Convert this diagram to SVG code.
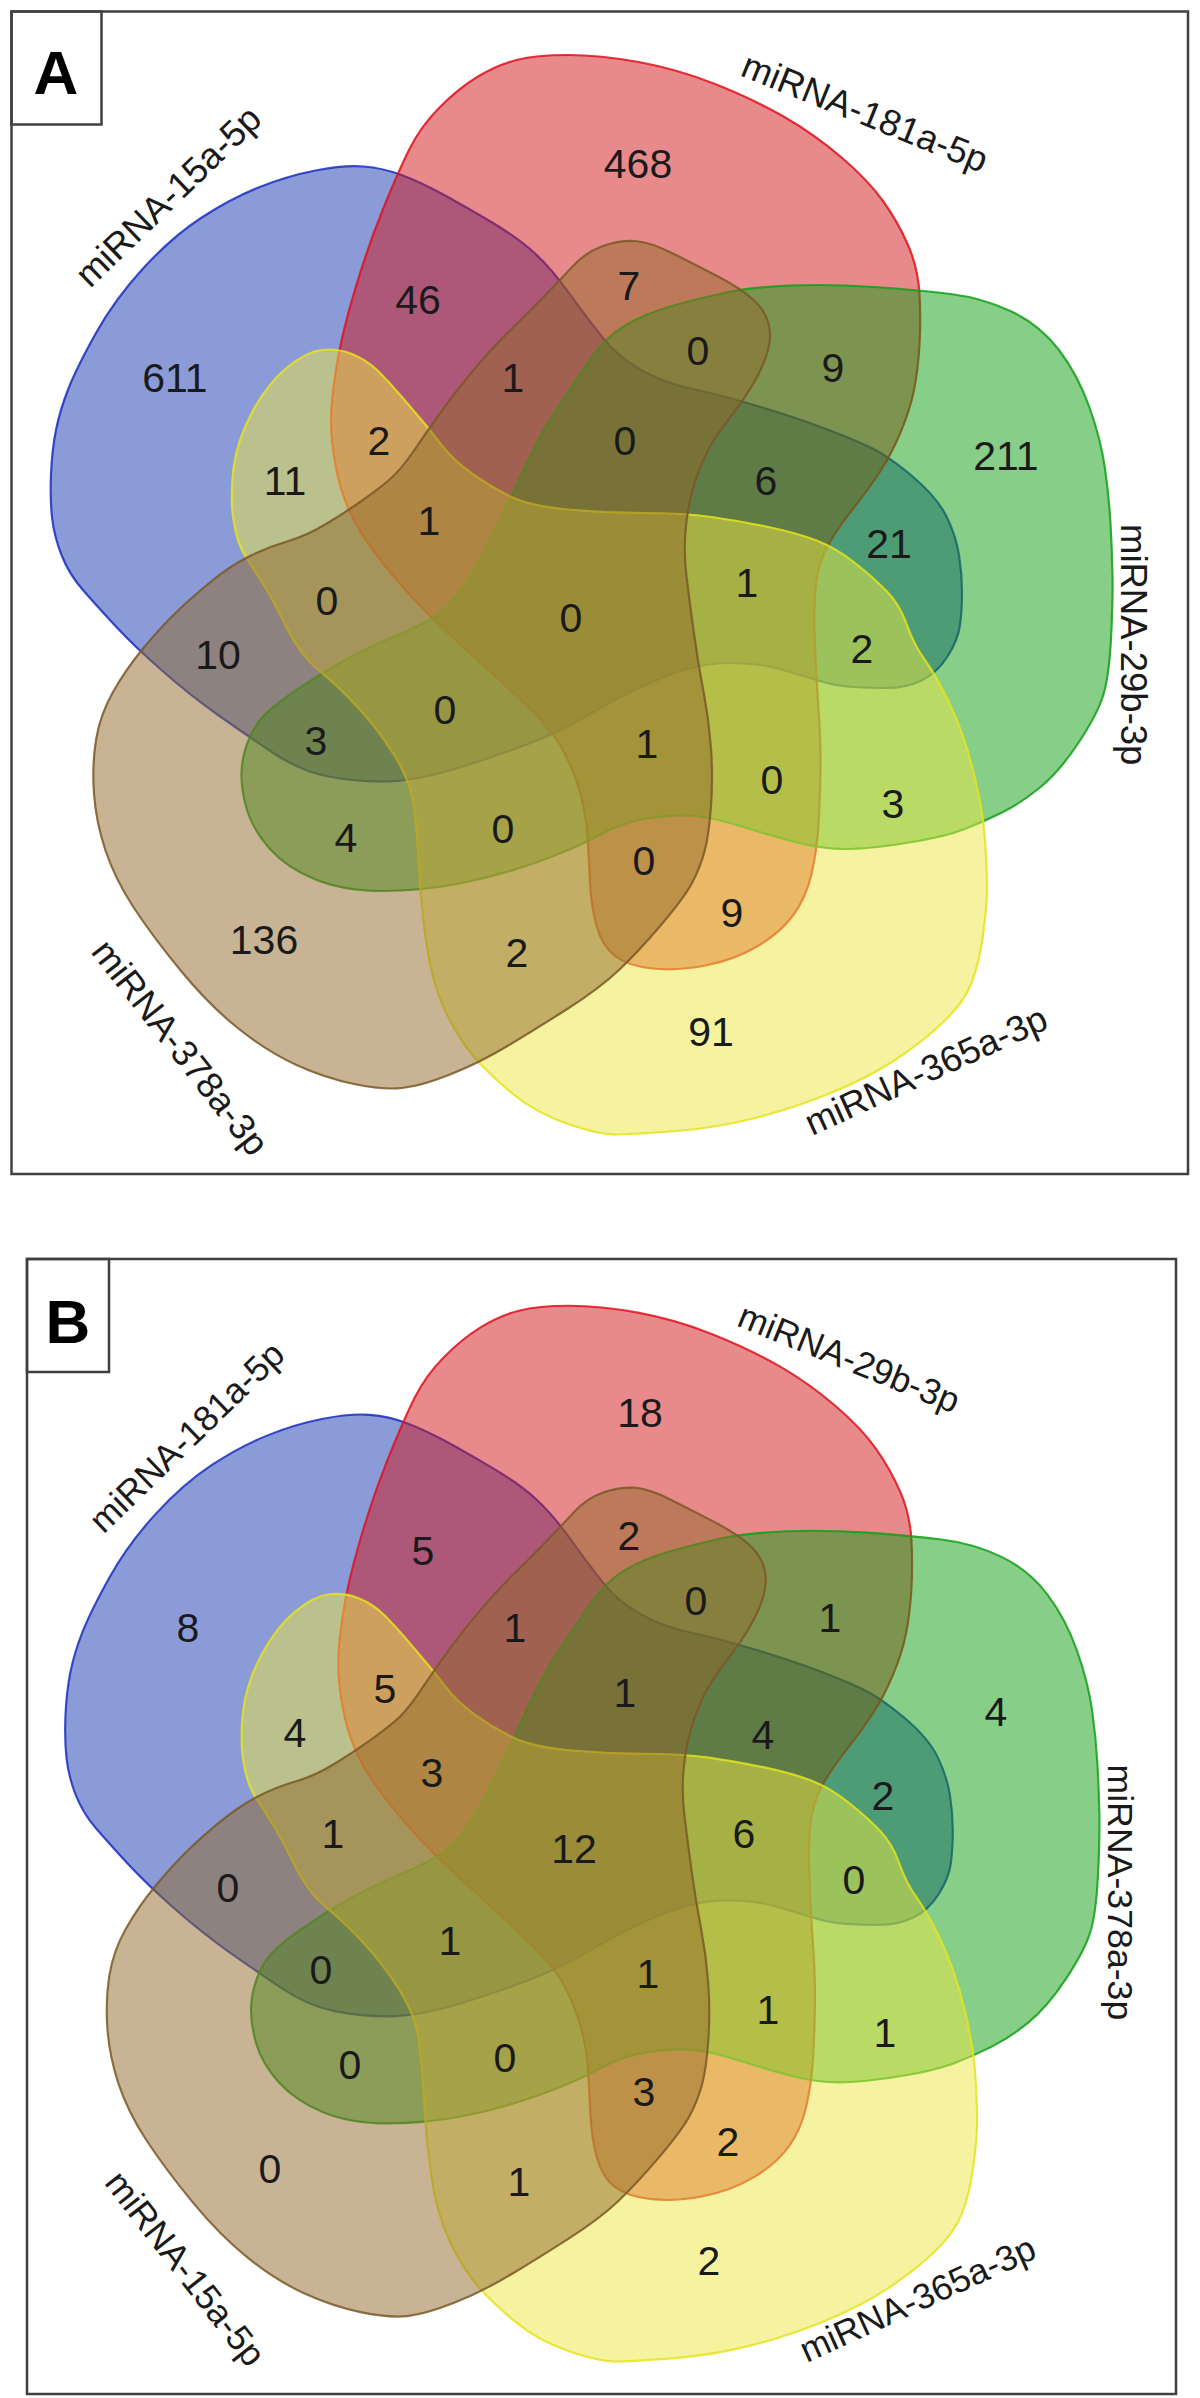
<svg xmlns="http://www.w3.org/2000/svg" xmlns:xlink="http://www.w3.org/1999/xlink" width="1200" height="2398" viewBox="0 0 1200 2398">
<style>
.bg{fill:#ffffff}
.frame{fill:none;stroke:#404040;stroke-width:2.5}
.s{fill-opacity:0.5;stroke-width:2.2;stroke-opacity:0.85}
.blue{fill:#1537b1;stroke:#1a2ec0}
.red{fill:#d11519;stroke:#e0101c}
.green{fill:#0f9d13;stroke:#12a018}
.yellow{fill:#ebe741;stroke:#e4e41c}
.brown{fill:#916929;stroke:#7a5826}
.n{font-family:"Liberation Sans",Arial,sans-serif;font-size:41px;text-anchor:middle;fill:#1a1a1a}
.lbl{font-family:"Liberation Sans",Arial,sans-serif;font-size:36.5px;fill:#1a1a1a}
.big{font-family:"Liberation Sans",Arial,sans-serif;font-size:62px;font-weight:bold;text-anchor:middle;fill:#000}
</style>
<defs>
<path id="pBlue" d="M52,517 Q50,498 51,474 T56,430 T68.5,388.5 T96,333 T143.5,268 T201,218 T258.5,187.5 T315.5,170.5 T363.5,166.5 T401.5,175 T439.5,192.5 T488,220 T534,252.5 T569,293 T602.5,337.5 T641,370 T692.5,389 T759,406.5 T823.5,428 T868.5,446.5 T912,476 T946.5,516.5 T959,555 T962,592 T960,625 T947.5,656.5 T921.5,680.5 T887,688 T852,687 T818,680.5 T779.5,669 T728.5,663 T661.5,678 T592.5,712.5 T525.5,745 T453,769.5 T386,781.5 T328.5,776.5 T272.5,752.5 T218,715 T162.5,671 T115,625.5 T82.5,589.5 T61.5,555 T52,517 Z"/>
<path id="pRed" d="M478,76.5 Q497,65 516.5,60 T568,55 T638.5,62 T715,84 T783.5,116.5 T841,157 T883,201 T908,245 T919.5,294 T919.5,345 T914,390 T900.5,432.5 T879.5,472.5 T854,507.5 T831,540 T818,572.5 T814.5,626.5 T818,701.5 T820.5,770 T818.5,825 T811.5,874 T793,915.5 T757,946.5 T705.5,965.5 T652.5,968.5 T615,956 T596.5,925.5 T590,882.5 T587.5,837.5 T581,796 T566,756 T536,715 T494,675 T451,636 T410,595 T374,551.5 T349,510 T335.5,465 T331,421 T336,369.5 T354,293 T382.5,210.5 T409.5,149 T440,107 T478,76.5 Z"/>
<path id="pGreen" d="M591,358.5 Q606,337 625,325.5 T672,306 T726.5,292.5 T791.5,285.5 T874,287 T950.5,294 T1011.5,311.5 T1059,350 T1089.5,407.5 T1105,468.5 T1110.5,523.5 T1112.5,575 T1111,638.5 T1103,696 T1078,743.5 T1040,787.5 T1002,812.5 T963.5,829.5 T906,843 T845,849 T797,842.5 T743.5,827 T696,816 T650,818 T598.5,835.5 T536,862.5 T459.5,883.5 T382.5,891 T315.5,879.5 T270,849 T247,810 T241.5,772.5 T250,736.5 T279,702.5 T328.5,669.5 T388.5,639 T434,617 T459,593 T480.5,559 T500.5,520 T519,480 T538,441 T562,401 T591,358.5 Z"/>
<path id="pYellow" d="M321.5,350 Q337,348 352,354 T378.5,371.5 T401.5,396.5 T421.5,420 T441.5,445 T472,473.5 T510.5,496.5 T568,509.5 T644.5,513 T711.5,517 T768.5,527 T816.5,540.5 T855,563 T887,591.5 T907,625 T925.5,661 T950.5,705.5 T973.5,772 T985,840 T987,888 T983,935 T971.5,983 T944.5,1021 T896.5,1059 T829.5,1093.5 T753,1118.5 T676.5,1131 T619,1134.5 T568,1124 T513,1094 T474.5,1057.5 T445.5,1011.5 T426.5,944.5 T419,868 T413.5,805 T393.5,754 T357.5,707 T319,670.5 T286,626.5 T263,584 T245.5,556.5 T233.5,520 T233.5,468.5 T252.5,411.5 T287,367.5 T321.5,350 Z"/>
<path id="pBrown" d="M94,793.5 Q92,765 96,740 T113,692 T143.5,648 T176,612.5 T210.5,582 T249,556.5 T287,541.5 T326,524 T361.5,501 T388.5,480.5 T413,452 T439.5,414 T472,372 T510.5,330 T545,295.5 T573,266 T603,246 T635,241 T673,253.5 T718,276.5 T752.5,299 T768.5,323.5 T767.5,352 T754,382.5 T734.5,411.5 T715,438.5 T698,473 T686.5,521 T686.5,576.5 T694,634 T703.5,691.5 T711,748.5 T711,806 T704.5,851.5 T692,883 T661,925 T619,970 T568,1008.5 T507.5,1046 T450,1074.5 T402,1088 T354,1084 T296.5,1065 T239,1029 T181.5,971.5 T134,908 T105.5,850.5 T94,793.5 Z"/>
</defs>
<rect class="bg" x="0" y="0" width="1200" height="2398"/>

<!-- Panel A -->
<g id="panelA">
<rect class="frame" x="11.5" y="11.5" width="1176.5" height="1162.5"/>
<g id="A-label-box"><rect class="frame" x="11.5" y="11.5" width="90" height="113"/><text class="big" x="56" y="94">A</text></g>
<g id="A-set-miR-15a-5p"><use href="#pBlue" xlink:href="#pBlue" class="s blue"/><text class="lbl" transform="translate(90,289) rotate(-44)">miRNA-15a-5p</text></g>
<g id="A-set-miR-181a-5p"><use href="#pRed" xlink:href="#pRed" class="s red"/><text class="lbl" transform="translate(739,75) rotate(22)">miRNA-181a-5p</text></g>
<g id="A-set-miR-29b-3p"><use href="#pGreen" xlink:href="#pGreen" class="s green"/><text class="lbl" transform="translate(1121,524) rotate(90)">miRNA-29b-3p</text></g>
<g id="A-set-miR-365a-3p"><use href="#pYellow" xlink:href="#pYellow" class="s yellow"/><text class="lbl" transform="translate(812,1136) rotate(-24.5)">miRNA-365a-3p</text></g>
<g id="A-set-miR-378a-3p"><use href="#pBrown" xlink:href="#pBrown" class="s brown"/><text class="lbl" transform="translate(90,952) rotate(52)">miRNA-378a-3p</text></g>
<g id="A-counts">
<text class="n" x="175" y="392">611</text>
<text class="n" x="418" y="314">46</text>
<text class="n" x="638" y="178">468</text>
<text class="n" x="629" y="300">7</text>
<text class="n" x="513" y="392">1</text>
<text class="n" x="698" y="365">0</text>
<text class="n" x="833" y="382">9</text>
<text class="n" x="379" y="455">2</text>
<text class="n" x="625" y="455">0</text>
<text class="n" x="766" y="495">6</text>
<text class="n" x="1006" y="470">211</text>
<text class="n" x="285" y="495">11</text>
<text class="n" x="429" y="535">1</text>
<text class="n" x="889" y="558">21</text>
<text class="n" x="747" y="597">1</text>
<text class="n" x="327" y="615">0</text>
<text class="n" x="571" y="632">0</text>
<text class="n" x="218" y="669">10</text>
<text class="n" x="862" y="663">2</text>
<text class="n" x="445" y="724">0</text>
<text class="n" x="316" y="755">3</text>
<text class="n" x="647" y="758">1</text>
<text class="n" x="772" y="794">0</text>
<text class="n" x="893" y="818">3</text>
<text class="n" x="503" y="843">0</text>
<text class="n" x="346" y="852">4</text>
<text class="n" x="644" y="875">0</text>
<text class="n" x="732" y="927">9</text>
<text class="n" x="264" y="954">136</text>
<text class="n" x="517" y="967">2</text>
<text class="n" x="711" y="1046">91</text>
</g>
</g>

<!-- Panel B -->
<g id="panelB">
<rect class="frame" x="27" y="1259" width="1149" height="1135"/>
<g id="B-label-box"><rect class="frame" x="27" y="1259" width="82" height="113"/><text class="big" x="68" y="1343">B</text></g>
<g transform="matrix(0.974 0 0 0.978 15.8 1252)">
<g id="B-set-miR-181a-5p"><use href="#pBlue" xlink:href="#pBlue" class="s blue"/><text class="lbl" transform="translate(90,289) rotate(-44)">miRNA-181a-5p</text></g>
<g id="B-set-miR-29b-3p"><use href="#pRed" xlink:href="#pRed" class="s red"/><text class="lbl" transform="translate(739,75) rotate(22)">miRNA-29b-3p</text></g>
<g id="B-set-miR-378a-3p"><use href="#pGreen" xlink:href="#pGreen" class="s green"/><text class="lbl" transform="translate(1121,524) rotate(90)">miRNA-378a-3p</text></g>
<g id="B-set-miR-365a-3p"><use href="#pYellow" xlink:href="#pYellow" class="s yellow"/><text class="lbl" transform="translate(812,1136) rotate(-24.5)">miRNA-365a-3p</text></g>
<g id="B-set-miR-15a-5p"><use href="#pBrown" xlink:href="#pBrown" class="s brown"/><text class="lbl" transform="translate(90,952) rotate(52)">miRNA-15a-5p</text></g>
</g>
<g id="B-counts">
<text class="n" x="188" y="1642">8</text>
<text class="n" x="423" y="1565">5</text>
<text class="n" x="515" y="1642">1</text>
<text class="n" x="385" y="1703">5</text>
<text class="n" x="295" y="1747">4</text>
<text class="n" x="432" y="1787">3</text>
<text class="n" x="640" y="1427">18</text>
<text class="n" x="629" y="1550">2</text>
<text class="n" x="696" y="1615">0</text>
<text class="n" x="830" y="1632">1</text>
<text class="n" x="625" y="1707">1</text>
<text class="n" x="763" y="1749">4</text>
<text class="n" x="996" y="1726">4</text>
<text class="n" x="883" y="1810">2</text>
<text class="n" x="744" y="1848">6</text>
<text class="n" x="333" y="1848">1</text>
<text class="n" x="574" y="1863">12</text>
<text class="n" x="228" y="1902">0</text>
<text class="n" x="450" y="1955">1</text>
<text class="n" x="321" y="1984">0</text>
<text class="n" x="350" y="2079">0</text>
<text class="n" x="505" y="2072">0</text>
<text class="n" x="270" y="2183">0</text>
<text class="n" x="519" y="2196">1</text>
<text class="n" x="854" y="1894">0</text>
<text class="n" x="648" y="1988">1</text>
<text class="n" x="768" y="2024">1</text>
<text class="n" x="885" y="2047">1</text>
<text class="n" x="644" y="2106">3</text>
<text class="n" x="728" y="2156">2</text>
<text class="n" x="709" y="2275">2</text>
</g>
</g>
</svg>
